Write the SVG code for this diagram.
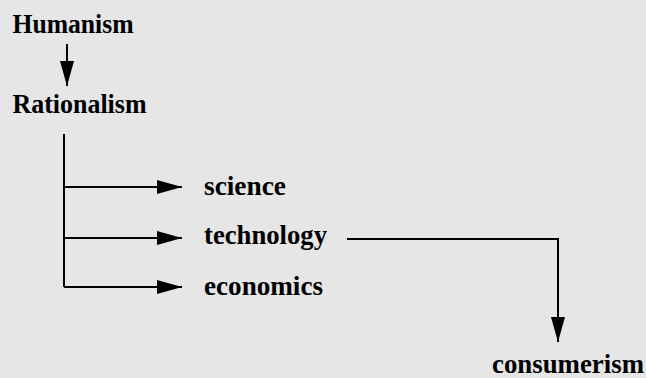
<svg xmlns="http://www.w3.org/2000/svg" width="646" height="378" viewBox="0 0 646 378">
<defs>
<style>
.t{font-family:"Liberation Serif","Times New Roman",serif;font-weight:bold;font-size:27px;fill:#000}
.c{stroke:#000;stroke-width:2;fill:none}
</style>
<marker id="ah" markerWidth="25" markerHeight="14" refX="25" refY="7" orient="auto" markerUnits="userSpaceOnUse">
<path d="M0,0 L25,7 L0,14 Z" fill="#000"/>
</marker>
</defs>
<rect width="646" height="378" fill="#e6e6e6"/>
<g id="connectors">
<path class="c" d="M67,44 V86" marker-end="url(#ah)"/>
<path class="c" d="M64,134 V287"/>
<path class="c" d="M64,187 H182" marker-end="url(#ah)"/>
<path class="c" d="M64,238 H182" marker-end="url(#ah)"/>
<path class="c" d="M64,287 H182" marker-end="url(#ah)"/>
<path class="c" d="M347,239 H558 V342" marker-end="url(#ah)"/>
</g>
<g id="humanism"><text class="t" x="12.5" y="33.3" textLength="121" lengthAdjust="spacingAndGlyphs">Humanism</text></g>
<g id="rationalism"><text class="t" x="12.5" y="113.3" textLength="134" lengthAdjust="spacingAndGlyphs">Rationalism</text></g>
<g id="science"><text class="t" x="204" y="194.5" textLength="82" lengthAdjust="spacingAndGlyphs">science</text></g>
<g id="technology"><text class="t" x="204" y="243.5" textLength="123" lengthAdjust="spacingAndGlyphs">technology</text></g>
<g id="economics"><text class="t" x="204" y="295" textLength="119" lengthAdjust="spacingAndGlyphs">economics</text></g>
<g id="consumerism"><text class="t" x="492" y="373" textLength="152" lengthAdjust="spacingAndGlyphs">consumerism</text></g>
</svg>
